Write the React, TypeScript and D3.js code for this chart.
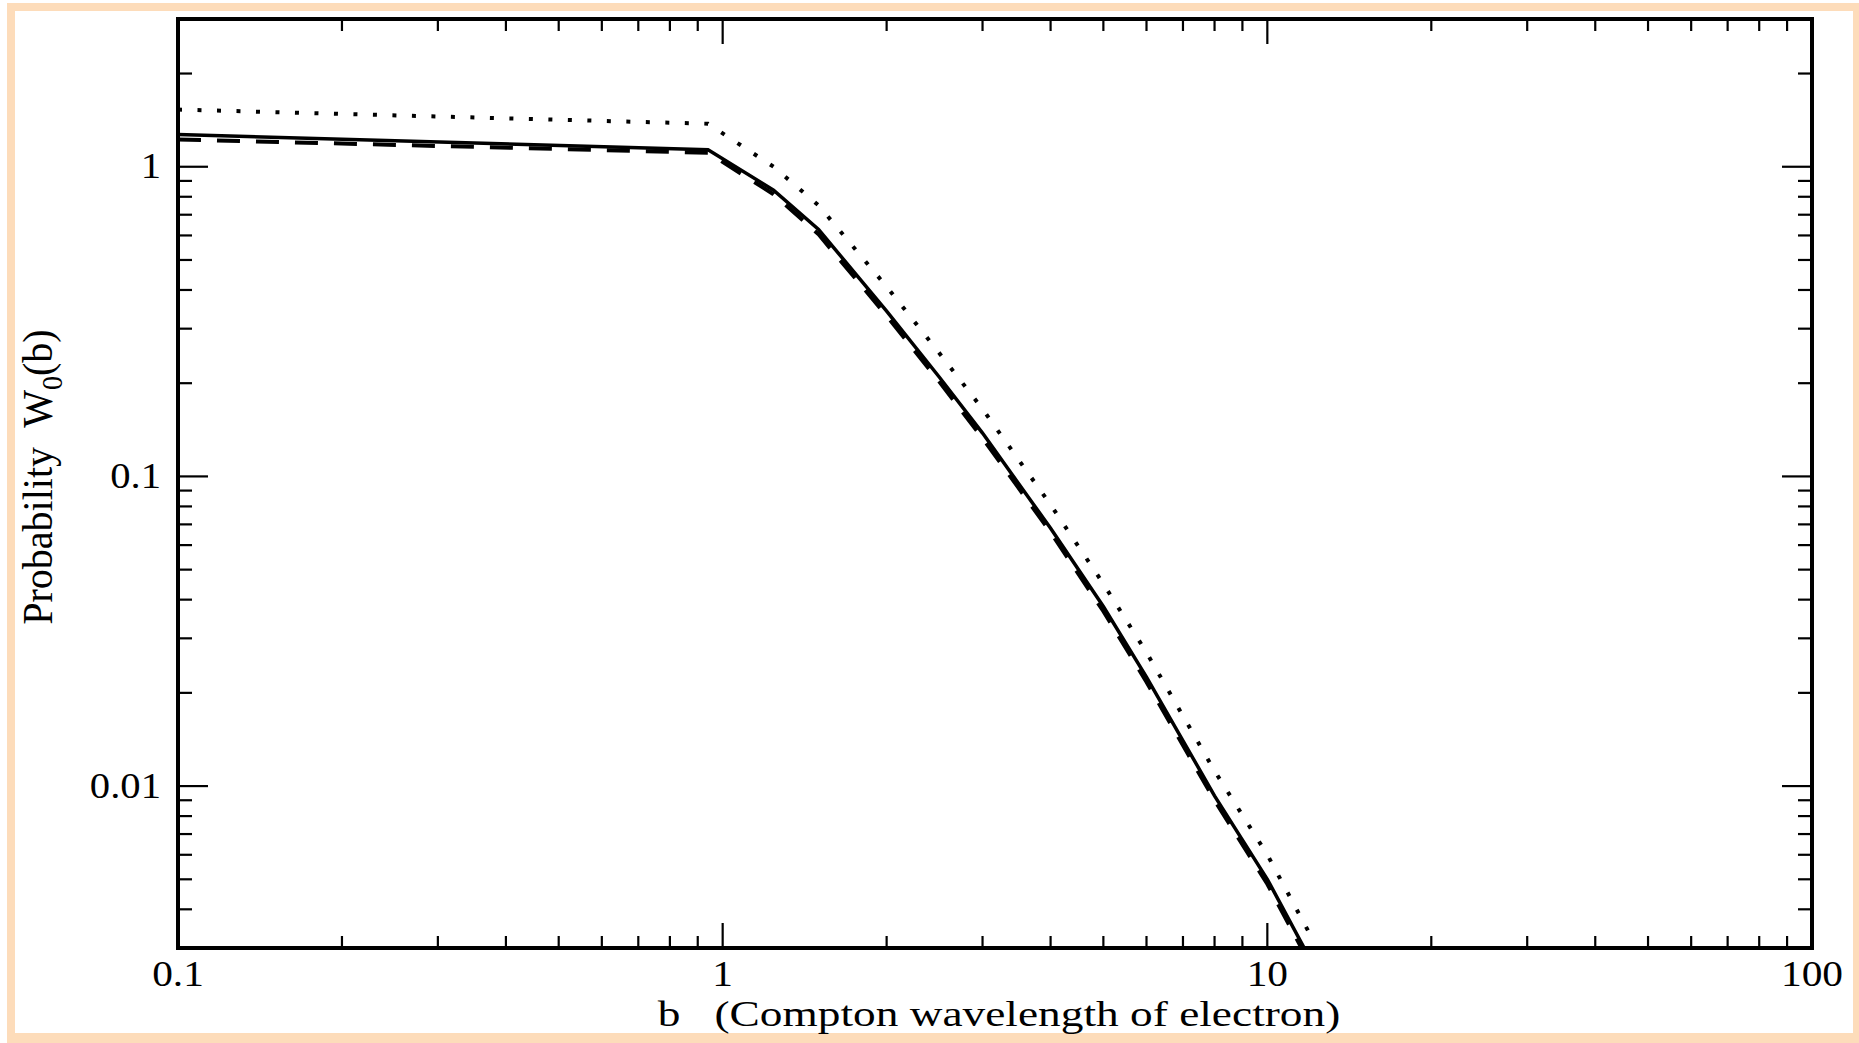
import React from 'react';
import * as d3 from 'd3';

// b values (Compton wavelengths) and the three curves
const bValues = [0.1, 0.94, 1.24, 1.5, 2, 2.5, 3, 4, 5, 6, 8, 10, 12];
const solidW = [1.27, 1.135, 0.84, 0.627, 0.342, 0.209, 0.138, 0.068, 0.038, 0.0225, 0.0093, 0.005, 0.00275];
const dashedW = [1.225, 1.11, 0.815, 0.605, 0.33, 0.202, 0.133, 0.066, 0.0367, 0.0217, 0.009, 0.00483, 0.00265];
const dottedW = [1.53, 1.377, 1.0, 0.75, 0.41, 0.25, 0.165, 0.081, 0.045, 0.027, 0.0112, 0.006, 0.0033];

const xMajorTicks = [0.1, 1, 10, 100];
const xTickLabels = ['0.1', '1', '10', '100'];
const yMajorTicks = [0.01, 0.1, 1];
const yTickLabels = ['0.01', '0.1', '1'];

const W = 1859;
const H = 1043;
const L = 178, R = 1812, T = 19, B = 948;
const FONT = "'Liberation Serif', 'Times New Roman', serif";

export default function App() {
  const x = d3.scaleLog().domain([0.1, 100]).range([L, R]);
  const y = d3.scaleLog().domain([0.003, 3]).range([B, T]);

  const line = d3.line<[number, number]>().x(d => x(d[0])).y(d => y(d[1]));
  const mk = (arr: number[]) => line(bValues.map((b, i) => [b, arr[i]] as [number, number])) || '';

  const xMinor: number[] = [];
  for (const dec of [0.1, 1, 10]) for (let k = 2; k <= 9; k++) xMinor.push(dec * k);
  const yMinor: number[] = [];
  for (const dec of [0.001, 0.01, 0.1, 1]) for (let k = 2; k <= 9; k++) {
    const v = dec * k;
    if (v > 0.003 + 1e-9 && v < 3 - 1e-9) yMinor.push(v);
  }

  const xMajLen = 25, xMinLen = 12, yMajLen = 30, yMinLen = 14;

  return (
    <svg width={W} height={H} style={{ position: 'absolute', left: 0, top: 0, background: '#fff' }}>
      <rect x={7} y={3} width={W - 7} height={H - 3} fill="#FDDCBA" />
      <rect x={15} y={11} width={1838} height={1022} fill="#fff" />
      <defs>
        <clipPath id="plotclip">
          <rect x={L} y={T} width={R - L} height={B - T} />
        </clipPath>
      </defs>

      {/* ticks */}
      <g stroke="#000" strokeWidth={2.2}>
        {xMinor.map((v, i) => (
          <g key={'xm' + i}>
            <line x1={x(v)} x2={x(v)} y1={B} y2={B - xMinLen} />
            <line x1={x(v)} x2={x(v)} y1={T} y2={T + xMinLen} />
          </g>
        ))}
        {xMajorTicks.map((v, i) => (
          <g key={'xM' + i}>
            <line x1={x(v)} x2={x(v)} y1={B} y2={B - xMajLen} />
            <line x1={x(v)} x2={x(v)} y1={T} y2={T + xMajLen} />
          </g>
        ))}
        {yMinor.map((v, i) => (
          <g key={'ym' + i}>
            <line x1={L} x2={L + yMinLen} y1={y(v)} y2={y(v)} />
            <line x1={R} x2={R - yMinLen} y1={y(v)} y2={y(v)} />
          </g>
        ))}
        {yMajorTicks.map((v, i) => (
          <g key={'yM' + i}>
            <line x1={L} x2={L + yMajLen} y1={y(v)} y2={y(v)} />
            <line x1={R} x2={R - yMajLen} y1={y(v)} y2={y(v)} />
          </g>
        ))}
      </g>

      {/* curves */}
      <g clipPath="url(#plotclip)" fill="none" stroke="#000">
        <path d={mk(dottedW)} strokeWidth={4} strokeDasharray="4 15.5" />
        <path d={mk(dashedW)} strokeWidth={4} strokeDasharray="23 16" />
        <path d={mk(solidW)} strokeWidth={3.5} />
      </g>

      {/* frame */}
      <rect x={L} y={T} width={R - L} height={B - T} fill="none" stroke="#000" strokeWidth={4} />

      {/* tick labels */}
      <g fontFamily={FONT} fontSize={36} fill="#000">
        {xMajorTicks.map((v, i) => (
          <text key={'xl' + i} textAnchor="middle" transform={`translate(${x(v)},${986}) scale(1.15,1)`}>
            {xTickLabels[i]}
          </text>
        ))}
        {yMajorTicks.map((v, i) => (
          <text key={'yl' + i} textAnchor="end" transform={`translate(${161},${y(v) + 11.5}) scale(1.13,1)`}>
            {yTickLabels[i]}
          </text>
        ))}
      </g>

      {/* axis titles */}
      <text fontFamily={FONT} fontSize={36} textAnchor="middle" style={{ whiteSpace: 'pre' }}
        transform={`translate(${999},${1026}) scale(1.26,1)`}>
        {'b   (Compton wavelength of electron)'}
      </text>
      <text fontFamily={FONT} fontSize={40} textAnchor="middle" style={{ whiteSpace: 'pre' }}
        transform={`translate(${52},${477}) rotate(-90) scale(1,1.08)`}>
        <tspan>{'Probability  W'}</tspan>
        <tspan fontSize={28} dy={9}>0</tspan>
        <tspan dy={-9}>(b)</tspan>
      </text>
    </svg>
  );
}
